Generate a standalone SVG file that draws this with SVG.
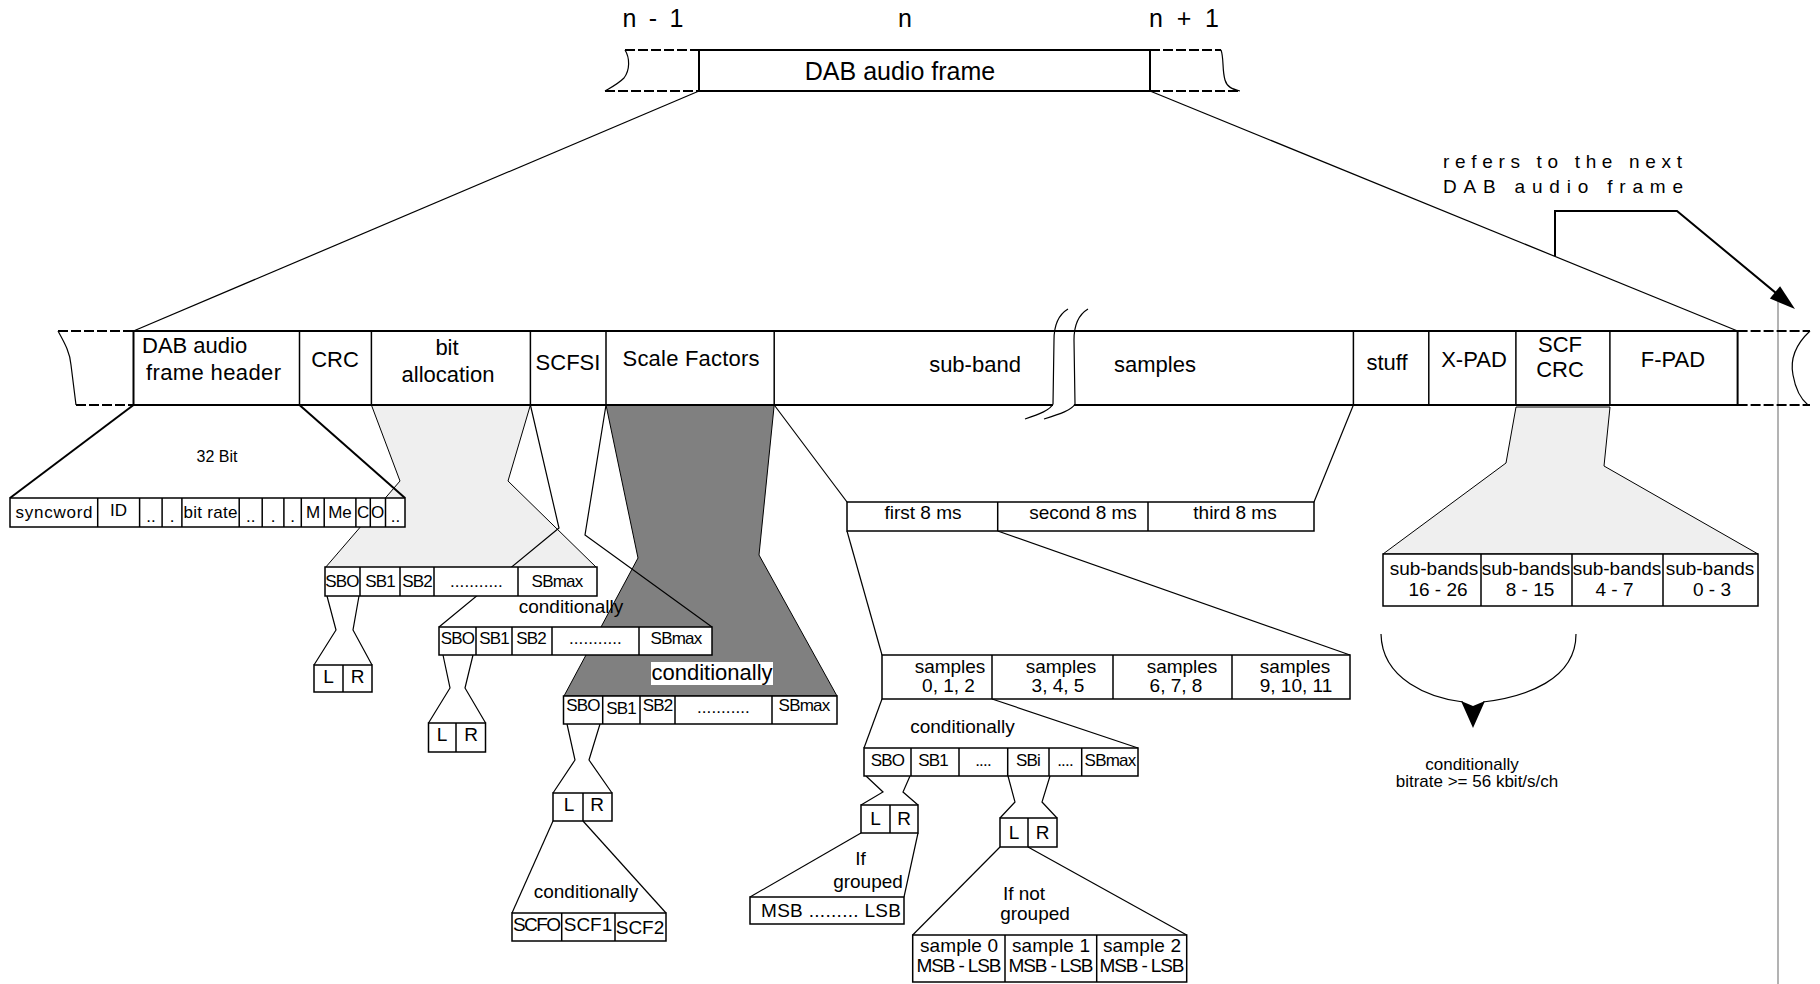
<svg xmlns="http://www.w3.org/2000/svg" width="1820" height="984" viewBox="0 0 1820 984">
<style>
text{font-family:"Liberation Sans",Arial,sans-serif;fill:#000}
.m{text-anchor:middle}
.f22{font-size:22px}
.f19{font-size:19px}
.f17{font-size:17px}
.sb{font-size:17px;letter-spacing:-0.8px}
.bx{fill:#fff;stroke:#000;stroke-width:1.5}
.dv{stroke:#000;stroke-width:1.5}
.ln{fill:none;stroke:#000;stroke-width:1.2}
.thick{stroke-width:2}
.dash{fill:none;stroke:#000;stroke-width:2;stroke-dasharray:10 3}
.lg{fill:#efefef;stroke:#000;stroke-width:1}
.dg{fill:#808080;stroke:#000;stroke-width:1}
</style>

<!-- shaded expansions -->
<g id="bitalloc-expansion">
<polygon class="lg" points="371.4,405 530.4,405 508,481 597,568 325,568 400,481"/>
</g>
<g id="scalefactor-expansion">
<polygon class="dg" points="606,405 774.2,405 759,555 837,696 564,696 638,558"/>
</g>
<g id="scfcrc-expansion">
<polygon class="lg" points="1516,407 1610,407 1604,466 1758,554 1383,554 1506,463"/>
</g>

<!-- connectors -->
<g id="connectors" class="ln">
<line x1="699" y1="91" x2="133.5" y2="331"/>
<line x1="1150" y1="91" x2="1737.6" y2="331"/>
<line x1="133.5" y1="405" x2="10" y2="498" class="thick"/>
<line x1="299.5" y1="405" x2="405" y2="498" class="thick"/>
<polyline points="530.4,405 559,528 439,627"/>
<polyline points="606,405 585,535 712,627"/>
<line x1="774.2" y1="405" x2="847" y2="502"/>
<line x1="1353.4" y1="405" x2="1314" y2="502"/>
<line x1="847" y1="531" x2="882" y2="655"/>
<line x1="997.7" y1="531" x2="1350" y2="655"/>
<line x1="882" y1="699" x2="864" y2="748"/>
<line x1="992" y1="699" x2="1138" y2="748"/>
<polyline points="327,596 336,630 314,665"/>
<polyline points="359,596 353,630 372,665"/>
<polyline points="443,655 450,688 428.5,723"/>
<polyline points="473,655 465,688 485.6,723"/>
<polyline points="567,724 575,760 553,793"/>
<polyline points="600,724 589,760 612,793"/>
<line x1="553" y1="821" x2="512" y2="913"/>
<line x1="583" y1="821" x2="666" y2="913"/>
<polyline points="866,776 883,792 861,805"/>
<polyline points="910,776 903,792 918,805"/>
<line x1="861" y1="833" x2="750" y2="897"/>
<line x1="918" y1="833" x2="904" y2="897"/>
<polyline points="1008,776 1015,802 1000,818"/>
<polyline points="1050,776 1042,802 1057,818"/>
<line x1="1000" y1="847" x2="912.7" y2="935"/>
<line x1="1028" y1="847" x2="1186.7" y2="935"/>
<line x1="1778" y1="298" x2="1778" y2="984" stroke="#808080" stroke-width="1.2"/>
<polyline points="1555,256 1555,211 1677,211 1782,298" stroke-width="2"/>
<polygon points="1795,309 1769.9,298.6 1780.1,286.2" fill="#000" stroke="none"/>
<path d="M1381,634 C1382,680 1430,698 1463,702"/>
<path d="M1483,702 C1525,697 1576,680 1576,634"/>
<polygon points="1461,701 1473,706 1485,701 1473,728" fill="#000" stroke="none"/>
</g>

<!-- top frame -->
<g id="top-frame">
<text class="m" x="653" y="27" style="font-size:25px" textLength="61">n - 1</text>
<text class="m" x="905" y="27" style="font-size:25px">n</text>
<text class="m" x="1184" y="27" style="font-size:25px" textLength="70">n + 1</text>
<line class="dash" x1="625" y1="50" x2="699" y2="50"/>
<line class="dash" x1="605" y1="91" x2="699" y2="91"/>
<path class="ln" d="M625,50 C630,58 630,70 624,78 C618,84 610,88 605,91"/>
<line class="dash" x1="1150" y1="50" x2="1221" y2="50"/>
<line class="dash" x1="1150" y1="91" x2="1240" y2="91"/>
<path class="ln" d="M1221,50 C1224,58 1222,70 1225,80 C1227,87 1232,89 1240,91"/>
<rect x="699" y="50" width="451" height="41" fill="#fff" stroke="#000" stroke-width="2"/>
<text class="m" x="900" y="80" style="font-size:25px">DAB audio frame</text>
</g>

<!-- main bar -->
<g id="main-bar">
<line class="dash" x1="58" y1="331" x2="133.5" y2="331"/>
<line class="dash" x1="76" y1="405" x2="133.5" y2="405"/>
<path class="ln" d="M58,331 C64,342 70,352 71,365 L76,405"/>
<line class="dash" x1="1737.6" y1="331" x2="1810" y2="331"/>
<line class="dash" x1="1737.6" y1="405" x2="1810" y2="405"/>
<path class="ln" d="M1810,331 C1795,345 1790,360 1793,375 C1796,392 1802,400 1808,405"/>
<rect x="133.5" y="331" width="1604.1" height="74" fill="#fff" stroke="#000" stroke-width="2"/>
<g class="dv" stroke-width="2">
<line x1="299.5" y1="331" x2="299.5" y2="405"/>
<line x1="371.4" y1="331" x2="371.4" y2="405"/>
<line x1="530.4" y1="331" x2="530.4" y2="405"/>
<line x1="606" y1="331" x2="606" y2="405"/>
<line x1="774.2" y1="331" x2="774.2" y2="405"/>
<line x1="1353.4" y1="331" x2="1353.4" y2="405"/>
<line x1="1428.8" y1="331" x2="1428.8" y2="405"/>
<line x1="1515.9" y1="331" x2="1515.9" y2="405"/>
<line x1="1609.9" y1="331" x2="1609.9" y2="405"/>
</g>
<rect x="1053" y="399" width="21" height="9" fill="#fff"/>
<path class="ln" d="M1068,309 C1058,315 1054,325 1054,340 L1053,404 C1050,410 1040,414 1025,419"/>
<path class="ln" d="M1088,309 C1078,315 1074,325 1074,340 L1075,404 C1072,410 1060,414 1044,419"/>
<text class="f22" x="142" y="353">DAB  audio</text>
<text class="f22" x="146" y="380" textLength="135">frame header</text>
<text class="f22 m" x="335" y="367">CRC</text>
<text class="f22 m" x="447" y="355">bit</text>
<text class="f22 m" x="448" y="382">allocation</text>
<text class="f22 m" x="568" y="370">SCFSI</text>
<text class="f22 m" x="691" y="366" textLength="137">Scale Factors</text>
<text class="f22 m" x="975" y="372">sub-band</text>
<text class="f22 m" x="1155" y="372">samples</text>
<text class="f22 m" x="1387" y="370">stuff</text>
<text class="f22 m" x="1474" y="367">X-PAD</text>
<text class="f22 m" x="1560" y="352">SCF</text>
<text class="f22 m" x="1560" y="377">CRC</text>
<text class="f22 m" x="1673" y="367">F-PAD</text>
</g>

<!-- next frame note -->
<g id="next-frame-note">
<text x="1443" y="168" style="font-size:19px" textLength="239" lengthAdjust="spacing">refers to the next</text>
<text x="1443" y="193" style="font-size:19px" textLength="240" lengthAdjust="spacing">DAB audio frame</text>
</g>

<!-- header fields -->
<g id="header-fields">
<text class="m" x="217" y="462" style="font-size:16px">32 Bit</text>
<rect class="bx" x="10" y="498" width="395" height="29"/>
<g class="dv">
<line x1="97.7" y1="498" x2="97.7" y2="527"/>
<line x1="139.6" y1="498" x2="139.6" y2="527"/>
<line x1="162.1" y1="498" x2="162.1" y2="527"/>
<line x1="181.9" y1="498" x2="181.9" y2="527"/>
<line x1="239.2" y1="498" x2="239.2" y2="527"/>
<line x1="262.2" y1="498" x2="262.2" y2="527"/>
<line x1="283.9" y1="498" x2="283.9" y2="527"/>
<line x1="301.3" y1="498" x2="301.3" y2="527"/>
<line x1="324.2" y1="498" x2="324.2" y2="527"/>
<line x1="355.9" y1="498" x2="355.9" y2="527"/>
<line x1="370.3" y1="498" x2="370.3" y2="527"/>
<line x1="385.5" y1="498" x2="385.5" y2="527"/>
</g>
<text class="f17 m" x="54" y="518" textLength="77">syncword</text>
<text class="f17 m" x="118.6" y="516">ID</text>
<text class="f17 m" x="151" y="522">..</text>
<text class="f17 m" x="172" y="522">.</text>
<text class="f17" x="183.5" y="518" textLength="54">bit rate</text>
<text class="f17 m" x="250.7" y="522">..</text>
<text class="f17 m" x="273" y="522">.</text>
<text class="f17 m" x="292.6" y="522">.</text>
<text class="f17 m" x="313" y="518">M</text>
<text class="f17 m" x="340" y="518">Me</text>
<text class="f17 m" x="363.2" y="518">C</text>
<text class="f17 m" x="377.5" y="518">O</text>
<text class="f17 m" x="395.4" y="522">..</text>
</g>

<!-- bit allocation sub-band rows -->
<g id="ba-row1">
<rect class="bx" x="325" y="567" width="272" height="29"/>
<g class="dv"><line x1="360" y1="567" x2="360" y2="596"/><line x1="400" y1="567" x2="400" y2="596"/><line x1="434" y1="567" x2="434" y2="596"/><line x1="518" y1="567" x2="518" y2="596"/></g>
<text class="sb m" x="342" y="587">SBO</text>
<text class="sb m" x="380" y="587">SB1</text>
<text class="sb m" x="417" y="587">SB2</text>
<text class="sb m" x="476" y="587" textLength="52">...........</text>
<text class="sb m" x="557" y="587">SBmax</text>
</g>
<g id="lr-1">
<rect class="bx" x="314" y="665" width="58" height="27"/>
<line class="dv" x1="343" y1="665" x2="343" y2="692"/>
<text class="f19 m" x="328.5" y="683">L</text>
<text class="f19 m" x="357.5" y="683">R</text>
</g>
<text class="f19 m" x="571" y="613">conditionally</text>

<g id="scfsi-row2">
<rect class="bx" x="439" y="627" width="273" height="28"/>
<g class="dv"><line x1="476" y1="627" x2="476" y2="655"/><line x1="512" y1="627" x2="512" y2="655"/><line x1="552" y1="627" x2="552" y2="655"/><line x1="639" y1="627" x2="639" y2="655"/></g>
<text class="sb m" x="457.5" y="644">SBO</text>
<text class="sb m" x="494" y="644">SB1</text>
<text class="sb m" x="531" y="644">SB2</text>
<text class="sb m" x="595" y="644" textLength="52">...........</text>
<text class="sb m" x="676" y="644">SBmax</text>
</g>
<g id="lr-2">
<rect class="bx" x="428.5" y="723" width="57" height="29"/>
<line class="dv" x1="456" y1="723" x2="456" y2="752"/>
<text class="f19 m" x="442" y="741">L</text>
<text class="f19 m" x="471" y="741">R</text>
</g>
<rect x="651" y="662" width="122" height="23" fill="#fff"/>
<text class="m" x="712" y="680" style="font-size:22px">conditionally</text>

<g id="sf-row3">
<rect class="bx" x="563.5" y="696" width="273.5" height="28"/>
<g class="dv"><line x1="602.7" y1="696" x2="602.7" y2="724"/><line x1="640" y1="696" x2="640" y2="724"/><line x1="675" y1="696" x2="675" y2="724"/><line x1="772" y1="696" x2="772" y2="724"/></g>
<text class="sb m" x="583" y="711">SBO</text>
<text class="sb m" x="621" y="714">SB1</text>
<text class="sb m" x="657.5" y="711">SB2</text>
<text class="sb m" x="723" y="713" textLength="52">...........</text>
<text class="sb m" x="804" y="711">SBmax</text>
</g>
<g id="lr-3">
<rect class="bx" x="553" y="793" width="59" height="28"/>
<line class="dv" x1="583" y1="793" x2="583" y2="821"/>
<text class="f19 m" x="569" y="811">L</text>
<text class="f19 m" x="597" y="811">R</text>
</g>
<text class="f19 m" x="586" y="898">conditionally</text>
<g id="scf-row">
<rect class="bx" x="512" y="913" width="154" height="28"/>
<g class="dv"><line x1="561.7" y1="913" x2="561.7" y2="941"/><line x1="615" y1="913" x2="615" y2="941"/></g>
<text class="f19 m" x="537" y="931" textLength="48">SCFO</text>
<text class="f19 m" x="588" y="931">SCF1</text>
<text class="f19 m" x="640" y="934">SCF2</text>
</g>

<!-- samples -->
<g id="ms-row">
<rect class="bx" x="847" y="502" width="467" height="29"/>
<g class="dv"><line x1="997.7" y1="502" x2="997.7" y2="531"/><line x1="1148" y1="502" x2="1148" y2="531"/></g>
<text class="f19 m" x="923" y="519">first 8 ms</text>
<text class="f19 m" x="1083" y="519">second 8 ms</text>
<text class="f19 m" x="1235" y="519">third 8 ms</text>
</g>
<g id="samples-row">
<rect class="bx" x="882" y="655" width="468" height="44"/>
<g class="dv"><line x1="992" y1="655" x2="992" y2="699"/><line x1="1113" y1="655" x2="1113" y2="699"/><line x1="1232" y1="655" x2="1232" y2="699"/></g>
<text class="f19 m" x="950" y="673">samples</text><text class="f19 m" x="948.5" y="692">0, 1, 2</text>
<text class="f19 m" x="1061" y="673">samples</text><text class="f19 m" x="1058" y="692">3, 4, 5</text>
<text class="f19 m" x="1182" y="673">samples</text><text class="f19 m" x="1176" y="692">6, 7, 8</text>
<text class="f19 m" x="1295" y="673">samples</text><text class="f19 m" x="1296" y="692">9, 10, 11</text>
</g>
<text class="f19 m" x="962.5" y="733">conditionally</text>
<g id="sb-row4">
<rect class="bx" x="864" y="748" width="274" height="28"/>
<g class="dv"><line x1="911" y1="748" x2="911" y2="776"/><line x1="959" y1="748" x2="959" y2="776"/><line x1="1007.7" y1="748" x2="1007.7" y2="776"/><line x1="1049" y1="748" x2="1049" y2="776"/><line x1="1081.7" y1="748" x2="1081.7" y2="776"/></g>
<text class="sb m" x="887.5" y="766">SBO</text>
<text class="sb m" x="933" y="766">SB1</text>
<text class="sb m" x="983" y="766">....</text>
<text class="sb m" x="1028" y="766">SBi</text>
<text class="sb m" x="1065" y="766">....</text>
<text class="sb m" x="1110" y="766">SBmax</text>
</g>
<g id="lr-4">
<rect class="bx" x="861" y="805" width="57" height="28"/>
<line class="dv" x1="890" y1="805" x2="890" y2="833"/>
<text class="f19 m" x="875.5" y="825">L</text>
<text class="f19 m" x="904" y="825">R</text>
</g>
<text class="f19 m" x="860.5" y="865">If</text>
<text class="f19 m" x="868" y="888">grouped</text>
<g id="msb-lsb">
<rect class="bx" x="750" y="897" width="154" height="27"/>
<text class="f19 m" x="831" y="917" textLength="140">MSB ......... LSB</text>
</g>
<g id="lr-5">
<rect class="bx" x="1000" y="818" width="57" height="29"/>
<line class="dv" x1="1028" y1="818" x2="1028" y2="847"/>
<text class="f19 m" x="1014" y="839">L</text>
<text class="f19 m" x="1042.5" y="839">R</text>
</g>
<text class="f19 m" x="1024" y="900">If not</text>
<text class="f19 m" x="1035" y="920">grouped</text>
<g id="sample-row">
<rect class="bx" x="912.7" y="935" width="274" height="47"/>
<g class="dv"><line x1="1005" y1="935" x2="1005" y2="982"/><line x1="1096.7" y1="935" x2="1096.7" y2="982"/></g>
<text class="f19 m" x="959" y="952" textLength="78">sample 0</text><text class="f19 m" x="959" y="972" textLength="85">MSB - LSB</text>
<text class="f19 m" x="1051" y="952" textLength="78">sample 1</text><text class="f19 m" x="1051" y="972" textLength="85">MSB - LSB</text>
<text class="f19 m" x="1142" y="952" textLength="78">sample 2</text><text class="f19 m" x="1142" y="972" textLength="85">MSB - LSB</text>
</g>

<!-- scf crc sub-bands -->
<g id="subbands-row">
<rect class="bx" x="1383" y="554" width="375" height="52"/>
<g class="dv"><line x1="1481" y1="554" x2="1481" y2="606"/><line x1="1572" y1="554" x2="1572" y2="606"/><line x1="1663" y1="554" x2="1663" y2="606"/></g>
<text class="f19 m" x="1434" y="575">sub-bands</text><text class="f19 m" x="1438" y="596">16 - 26</text>
<text class="f19 m" x="1526" y="575">sub-bands</text><text class="f19 m" x="1530" y="596">8 - 15</text>
<text class="f19 m" x="1617" y="575">sub-bands</text><text class="f19 m" x="1614.5" y="596">4 - 7</text>
<text class="f19 m" x="1710" y="575">sub-bands</text><text class="f19 m" x="1712" y="596">0 - 3</text>
</g>
<text class="f17 m" x="1472" y="770">conditionally</text>
<text class="f17 m" x="1477" y="787">bitrate &gt;= 56 kbit/s/ch</text>
</svg>
